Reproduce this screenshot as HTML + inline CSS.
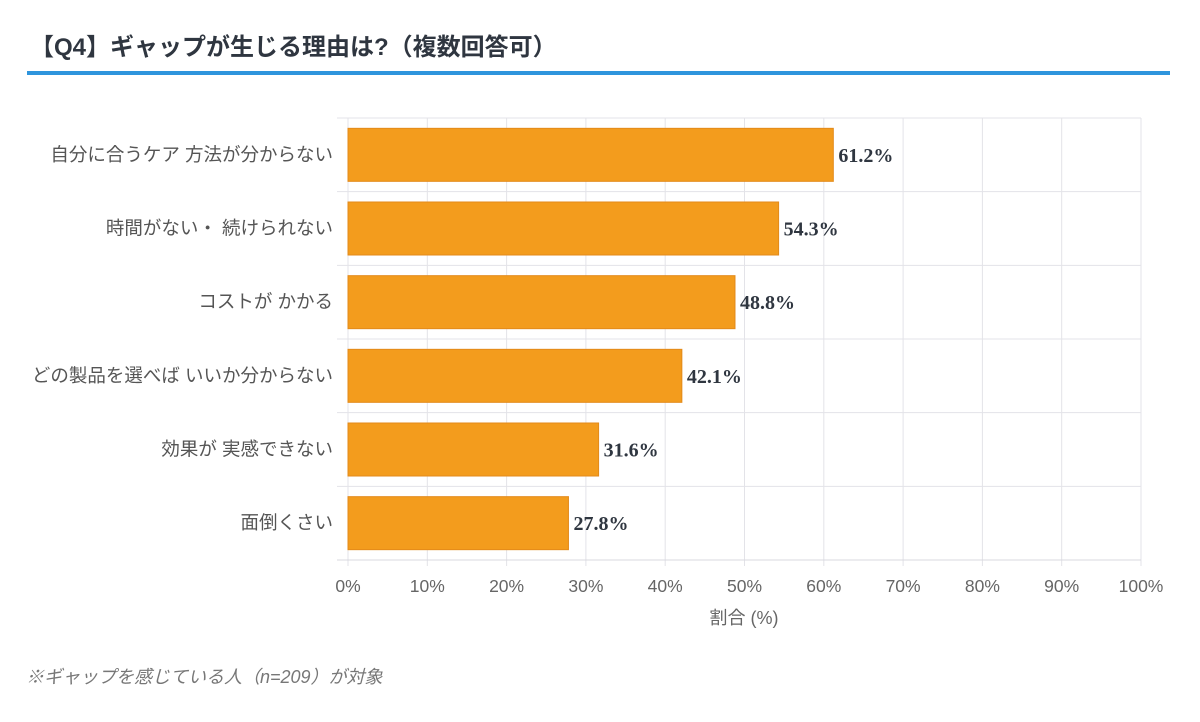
<!DOCTYPE html>
<html><head><meta charset="utf-8"><style>
body{margin:0;background:#fff;width:1200px;height:722px;overflow:hidden;font-family:"Liberation Sans","Noto Sans CJK JP",sans-serif}
#title{position:absolute;left:30px;top:27px;font-size:24px;font-weight:bold;color:#2f3640;white-space:nowrap}
#rule{position:absolute;left:27px;top:71px;width:1143px;height:4px;background:#2e95dd}
#note{position:absolute;left:26px;top:663px;font-size:18px;font-style:italic;color:#777;white-space:nowrap}
</style></head><body>
<div id="title">【Q4】ギャップが生じる理由は?（複数回答可）</div>
<div id="rule"></div>
<svg id="chart" width="1200" height="722" style="position:absolute;left:0;top:0"></svg>
<div id="note">※ギャップを感じている人（n=209）が対象</div>
<script>
const categories=["自分に合うケア 方法が分からない","時間がない・ 続けられない","コストが かかる","どの製品を選べば いいか分からない","効果が 実感できない","面倒くさい"];
const values=[61.2,54.3,48.8,42.1,31.6,27.8];
const ticks=[0,10,20,30,40,50,60,70,80,90,100];
const NS="http://www.w3.org/2000/svg";
const svg=document.getElementById('chart');
const x0=348,x1=1141,yTop=118,yBot=560;
const band=(yBot-yTop)/categories.length;
const xs=v=>x0+(x1-x0)*v/100;
function mk(t,a,p){const e=document.createElementNS(NS,t);for(const k in a)e.setAttribute(k,a[k]);(p||svg).appendChild(e);return e;}
ticks.forEach(t=>{
 const l=mk('line',{x1:xs(t),x2:xs(t),y1:yTop,y2:yBot+6,stroke:'#e3e3e8','stroke-width':1});
 
 
 const tx=mk('text',{x:xs(t),y:592,'text-anchor':'middle','font-size':17.5,fill:'#666'});
 tx.textContent=t+'%';
 
 
});
for(let i=0;i<=categories.length;i++){
 const y=yTop+band*i;
 const l=mk('line',{x1:337,x2:x1,y1:y,y2:y,stroke:i==categories.length?'#d8d8df':'#e3e3e8','stroke-width':1});
 
 
}
categories.forEach((c,i)=>{
 const yc=yTop+band*(i+0.5);
 const r=mk('rect',{x:x0,y:yc-26.5,width:xs(values[i])-x0,height:53,fill:'#f39c1d',stroke:'#e38a1a','stroke-width':1});
 
 
 const lb=mk('text',{x:333,y:yc+6,'text-anchor':'end','font-size':18.5,fill:'#555'});
 lb.textContent=c;
 
 
 const v=mk('text',{x:xs(values[i])+5,y:yc+7,'font-size':20,'font-weight':'bold','font-family':'"Liberation Serif",serif',fill:'#2f3640'});
 v.textContent=values[i].toFixed(1)+'%';
 
 
});
const at=mk('text',{x:744,y:624,'text-anchor':'middle','font-size':18,fill:'#666'});
at.textContent='割合 (%)';


</script>
</body></html>
